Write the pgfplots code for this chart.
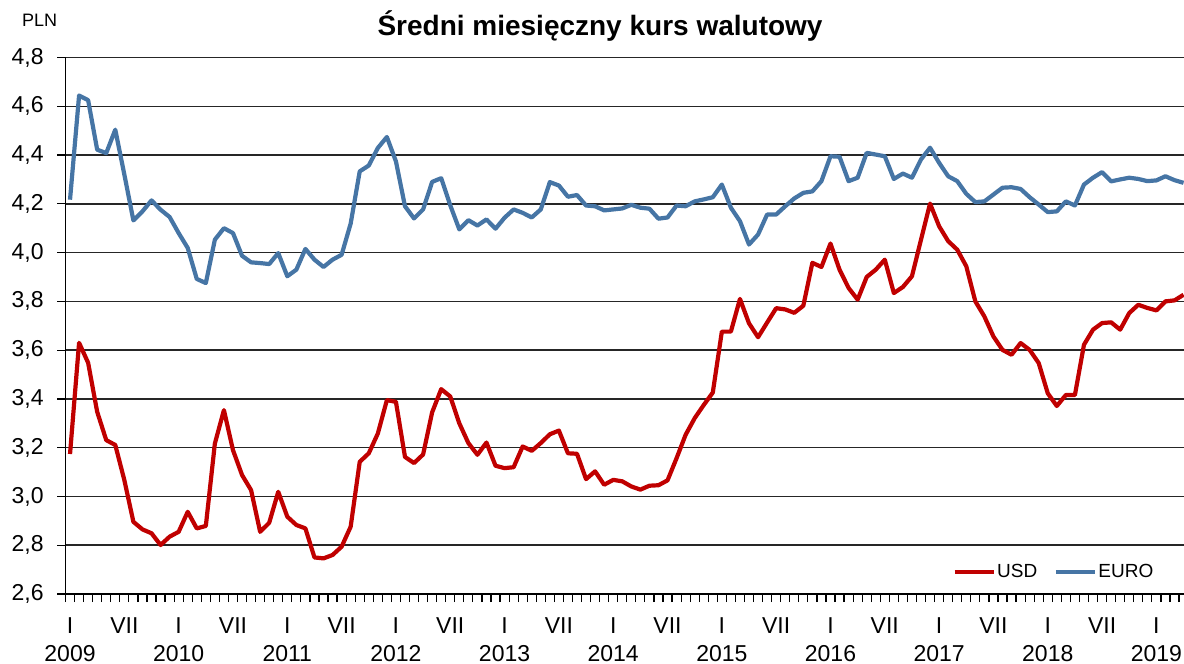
\documentclass[border=0pt]{standalone}
\usepackage{pgfplots}
\usepackage{pgfplotstable}
\pgfplotsset{compat=1.18}
\usepackage{fontspec}
\setmainfont{Liberation Sans}
\definecolor{usdred}{RGB}{192,0,0}
\definecolor{eurblue}{RGB}{70,117,165}
\pgfplotstableread{
i usd eur
0 3.174 4.217
1 3.630 4.644
2 3.548 4.625
3 3.347 4.422
4 3.231 4.408
5 3.211 4.504
6 3.067 4.320
7 2.896 4.132
8 2.865 4.169
9 2.849 4.214
10 2.801 4.176
11 2.835 4.146
12 2.855 4.080
13 2.937 4.019
14 2.869 3.892
15 2.879 3.875
16 3.217 4.053
17 3.354 4.100
18 3.190 4.080
19 3.088 3.987
20 3.026 3.960
21 2.855 3.957
22 2.892 3.953
23 3.019 3.998
24 2.917 3.903
25 2.883 3.930
26 2.869 4.015
27 2.750 3.971
28 2.746 3.941
29 2.760 3.971
30 2.794 3.991
31 2.876 4.119
32 3.142 4.333
33 3.177 4.357
34 3.258 4.429
35 3.395 4.474
36 3.388 4.374
37 3.162 4.190
38 3.137 4.140
39 3.172 4.177
40 3.345 4.290
41 3.440 4.305
42 3.410 4.194
43 3.300 4.095
44 3.219 4.133
45 3.171 4.111
46 3.221 4.136
47 3.126 4.098
48 3.116 4.143
49 3.120 4.177
50 3.205 4.163
51 3.187 4.144
52 3.219 4.177
53 3.255 4.289
54 3.270 4.275
55 3.177 4.229
56 3.175 4.236
57 3.071 4.193
58 3.103 4.190
59 3.048 4.173
60 3.068 4.177
61 3.062 4.181
62 3.041 4.196
63 3.028 4.184
64 3.044 4.180
65 3.046 4.139
66 3.066 4.144
67 3.157 4.193
68 3.253 4.190
69 3.321 4.210
70 3.375 4.218
71 3.426 4.227
72 3.676 4.279
73 3.676 4.184
74 3.810 4.129
75 3.710 4.033
76 3.653 4.074
77 3.713 4.156
78 3.772 4.156
79 3.767 4.190
80 3.753 4.222
81 3.782 4.245
82 3.958 4.251
83 3.941 4.293
84 4.037 4.395
85 3.930 4.393
86 3.855 4.293
87 3.807 4.307
88 3.900 4.409
89 3.930 4.402
90 3.971 4.395
91 3.834 4.302
92 3.859 4.324
93 3.903 4.307
94 4.053 4.382
95 4.201 4.430
96 4.108 4.368
97 4.047 4.313
98 4.012 4.293
99 3.944 4.241
100 3.800 4.207
101 3.738 4.210
102 3.656 4.238
103 3.601 4.266
104 3.581 4.268
105 3.629 4.261
106 3.601 4.227
107 3.547 4.197
108 3.423 4.166
109 3.371 4.169
110 3.416 4.210
111 3.416 4.193
112 3.622 4.279
113 3.684 4.307
114 3.711 4.330
115 3.714 4.292
116 3.684 4.300
117 3.752 4.307
118 3.786 4.302
119 3.773 4.293
120 3.763 4.296
121 3.800 4.313
122 3.804 4.297
123 3.827 4.286
}\rates
\begin{document}
\begin{tikzpicture}
\useasboundingbox (-32.75pt,-35pt) rectangle (559.25pt,297pt);
\begin{axis}[
  at={(0pt,0pt)}, anchor=south west,
  scale only axis,
  width=559.25pt, height=268.25pt,
  xmin=-0.5, xmax=123.05,
  ymin=2.6, ymax=4.8,
  ytick={2.6,2.8,...,4.81},
  clip mode=individual,
  axis lines=left,
  axis line style={-, black, line width=0.8pt},
  ymajorgrids,
  grid style={black!85, line width=0.75pt},
  tick align=outside,
  major tick length=4pt,
  minor tick length=4pt,
  tick style={black, line width=0.6pt},
  xtick={0,6,...,120},
  xticklabels={I,VII,I,VII,I,VII,I,VII,I,VII,I,VII,I,VII,I,VII,I,VII,I,VII,I},
  major x tick style={draw=none},
  minor xtick={-0.5,0.5,...,123},
  minor x tick style={draw=black, line width=0.6pt},
  extra x ticks={0,12,...,120},
  extra x tick labels={2009,2010,2011,2012,2013,2014,2015,2016,2017,2018,2019},
  extra x tick style={
    major x tick style={draw=none},
    xticklabel style={yshift=-14.25pt},
  },
  xticklabel style={font=\fontsize{11.5}{13}\selectfont, anchor=base, yshift=-15.5pt, inner sep=0pt},
  yticklabel style={font=\fontsize{11.5}{13}\selectfont, anchor=east, inner sep=0pt, xshift=-6.75pt},
  /pgf/number format/.cd, use comma, fixed, fixed zerofill, precision=1, assume math mode=true,
  /pgfplots/.cd,
  title={Średni miesięczny kurs walutowy},
  title style={font=\bfseries\fontsize{14}{16}\selectfont, at={(0.4779,1)}, anchor=base, yshift=4.9pt, inner sep=0pt},
  legend columns=2,
  legend style={draw=none, fill=none, at={(0.7926,0.041)}, anchor=west, inner sep=0pt,
    font=\fontsize{9.5}{11}\selectfont,
    nodes={inner sep=0.75pt},
    /tikz/every even column/.append style={column sep=7.5pt}},
  legend image code/.code={\draw[#1] (0pt,0pt) -- (19.5pt,0pt);},
]
\addplot[usdred, line width=2.1pt, line join=round] table[x=i, y=usd] {\rates};
\addlegendentry{USD}
\addplot[eurblue, line width=2.1pt, line join=round] table[x=i, y=eur] {\rates};
\addlegendentry{EURO}
\node[font=\fontsize{9}{10}\selectfont, inner sep=0pt] at (axis description cs:-0.0232,1.0699) {PLN};
\end{axis}
\end{tikzpicture}
\end{document}
